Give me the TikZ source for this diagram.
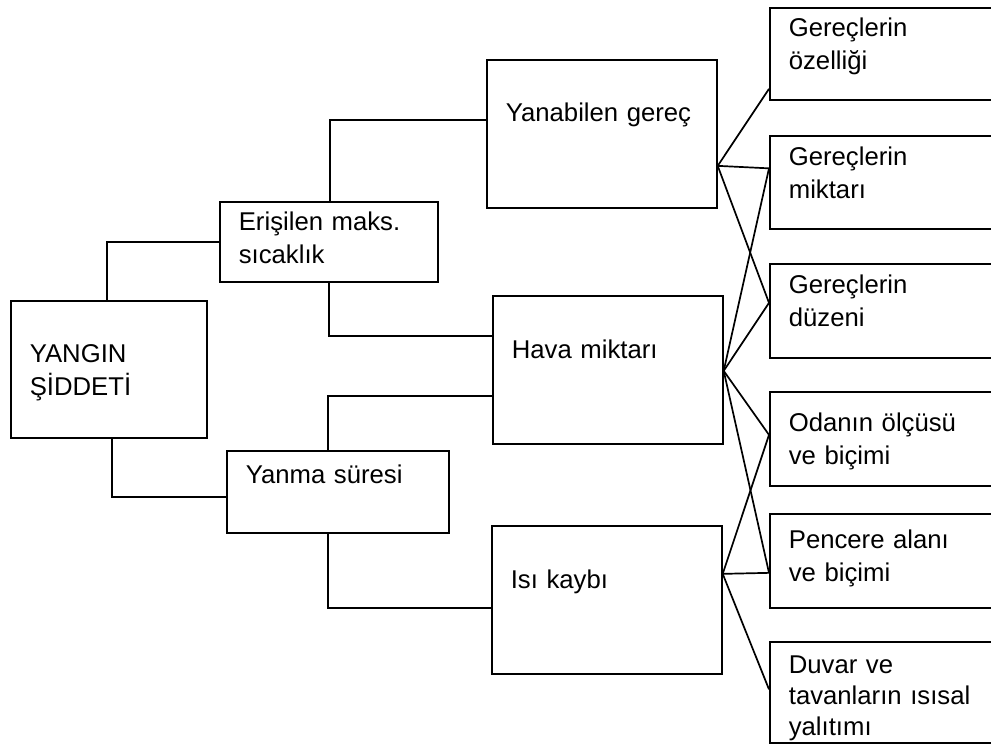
\documentclass[tikz,border=0pt]{standalone}
\usepackage{fontspec}
\setmainfont{Liberation Sans}

\begin{document}
\begin{tikzpicture}[x=1pt,y=-1pt,
  kutu/.style={draw, line width=1.7pt, anchor=north west, align=left,
    inner xsep=19pt, inner ysep=0pt, font=\fontsize{25.7}{33}\selectfont},
  hat/.style={line width=1.7pt}]
\useasboundingbox (0,0) rectangle (991,747);

% sol ve orta kutular
\node[kutu, text width=158pt, text height=62pt, text depth=75pt] (yangin) at (10,300) {YANGIN\\ŞİDDETİ};
\node[kutu, text width=180pt, text height=29pt, text depth=51pt] (erisilen) at (219,201) {Erişilen maks.\\sıcaklık};
\node[kutu, text width=184pt, text height=33pt, text depth=49pt] (yanma) at (226,450) {Yanma süresi};
\node[kutu, text width=192pt, text height=62pt, text depth=86pt] (yanabilen) at (486,59) {Yanabilen gereç};
\node[kutu, text width=192pt, text height=63pt, text depth=85pt] (hava) at (492,295) {Hava miktarı};
\node[kutu, text width=192pt, text height=63pt, text depth=85pt] (isi) at (491,525) {Isı kaybı};

% sag kutular
\node[kutu, text width=202pt, text height=29pt, text depth=63pt] (r1) at (769,7) {Gereçlerin\\özelliği};
\node[kutu, text width=202pt, text height=30pt, text depth=63pt] (r2) at (769,135) {Gereçlerin\\miktarı};
\node[kutu, text width=202pt, text height=30pt, text depth=64pt] (r3) at (769,263) {Gereçlerin\\düzeni};
\node[kutu, text width=202pt, text height=40pt, text depth=54pt] (r4) at (769,391) {Odanın ölçüsü\\ve biçimi};
\node[kutu, text width=202pt, text height=35pt, text depth=59pt] (r5) at (769,513) {Pencere alanı\\ve biçimi};
\node[kutu, text width=202pt, text height=32pt, text depth=69pt, font=\fontsize{25.7}{31}\selectfont] (r6) at (769,641) {Duvar ve\\tavanların ısısal\\yalıtımı};

% dirsek baglantilar
\draw[hat] (yangin.north west) ++(97,0) |- (erisilen.west);
\draw[hat] (yangin.south west) ++(102,0) |- ([yshift=-5pt]yanma.west);
\draw[hat] (erisilen.north west) ++(111,0) |- ([yshift=14pt]yanabilen.west);
\draw[hat] (erisilen.south west) ++(110,0) |- ([yshift=34pt]hava.west);
\draw[hat] (yanma.north west) ++(102,0) |- ([yshift=-26pt]hava.west);
\draw[hat] (yanma.south west) ++(102,0) |- ([yshift=-8pt]isi.west);

% yelpaze
\coordinate (yanabilenC) at ([yshift=-32pt]yanabilen.east);
\coordinate (havaC) at ([yshift=-1pt]hava.east);
\coordinate (isiC) at ([yshift=26pt]isi.east);
\coordinate (r1c) at ([yshift=-35pt]r1.west);
\coordinate (r2c) at ([yshift=14pt]r2.west);
\coordinate (r3c) at ([yshift=8pt]r3.west);
\coordinate (r4c) at ([yshift=4pt]r4.west);
\coordinate (r5c) at ([yshift=-12pt]r5.west);
\coordinate (r6c) at ([yshift=3pt]r6.west);
\foreach \t in {r1c,r2c,r3c} \draw[hat] (yanabilenC) -- (\t);
\foreach \t in {r2c,r3c,r4c,r5c} \draw[hat] (havaC) -- (\t);
\foreach \t in {r4c,r5c,r6c} \draw[hat] (isiC) -- (\t);

\end{tikzpicture}
\end{document}
